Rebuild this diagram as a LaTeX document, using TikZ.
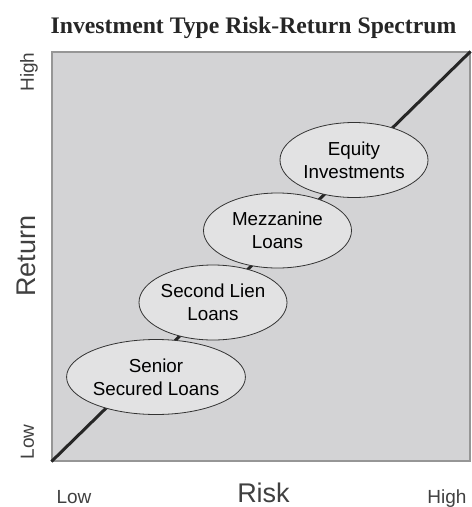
\documentclass[tikz,border=0pt]{standalone}
\usepackage{fontspec}
\setmainfont{Liberation Sans}
\newfontfamily\titlefont{Liberation Serif}
\usetikzlibrary{shapes.geometric}
\definecolor{areagray}{RGB}{211,211,213}
\definecolor{ovalgray}{RGB}{226,226,227}
\definecolor{framegray}{RGB}{150,150,150}

\begin{document}
\begin{tikzpicture}[
  x=1pt, y=-1pt,
  plot/.style={draw=framegray, line width=1.2pt, fill=areagray, minimum width=418pt, minimum height=409pt, inner sep=0pt},
  inv/.style={ellipse, draw=black!80, line width=0.8pt, fill=ovalgray, minimum width=148pt, minimum height=75pt, inner sep=0pt, align=center, font=\fontsize{18.8}{23}\selectfont},
  spec/.style={line width=3pt, black!85},
  tick/.style={font=\fontsize{19}{22}\selectfont, text=black!75},
  axis/.style={font=\fontsize{27}{30}\selectfont, text=black!75}
]
\useasboundingbox (0,0) rectangle (472,507);
\node[font=\titlefont\bfseries\fontsize{23.7}{26}\selectfont, text=black!85, anchor=base] (ttl) at (253.5,33) {Investment Type Risk-Return Spectrum};
\node[plot] (area) at (261,256.5) {};

\draw[spec] (area.south west) -- (area.north east);

\node[inv] (senior) at (156,377) {Senior\\Secured Loans};
\node[inv] (second) at (213,302.5) {Second Lien\\Loans};
\node[inv] (mezz) at (277.5,230.5) {Mezzanine\\Loans};
\node[inv] (equity) at (354,160) {Equity\\Investments};

\node[tick, anchor=base west] (xlow) at (53,503) {Low};
\node[tick, anchor=base east] (xhigh) at (470,503) {High};
\node[axis, anchor=base] (risk) at (263.5,502) {Risk};
\node[tick, rotate=90, anchor=base west] (ylow) at (34,463) {Low};
\node[tick, rotate=90, anchor=base east] (yhigh) at (34,49) {High};
\node[axis, rotate=90, anchor=base] (ret) at (35,256) {Return};
\end{tikzpicture}
\end{document}
